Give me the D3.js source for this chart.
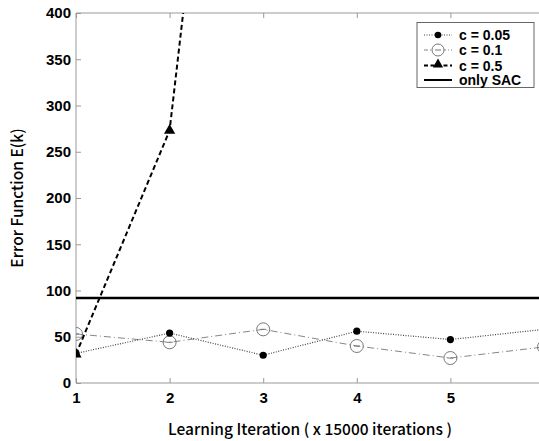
<!DOCTYPE html>
<html><head><meta charset="utf-8">
<script src="https://cdn.jsdelivr.net/npm/d3@7"></script>
<style>body{margin:0;background:#fff;overflow:hidden}</style>
</head><body>
<svg id="c" width="539" height="441"></svg>
<script>
const iterations = [1, 2, 3, 4, 5, 6];
const c005 = [32, 54, 30, 56, 47, 58];
const c01 = [53, 44, 58, 40, 27, 39];
const c05 = [31, 273, 1150];
const onlySAC = [92, 92, 92, 92, 92, 92];
const yTicks = [0, 50, 100, 150, 200, 250, 300, 350, 400];
const xTicks = [1, 2, 3, 4, 5];
const legendLabels = ["c = 0.05", "c = 0.1", "c = 0.5", "only SAC"];

const svg = d3.select("#c");
const L = 76, T = 13, B = 383, R = 544;
const x = d3.scaleLinear().domain([1, 6]).range([L, R]);
const y = d3.scaleLinear().domain([0, 400]).range([B, T]);

svg.append("defs").append("clipPath").attr("id", "clip")
  .append("rect").attr("x", L).attr("y", T).attr("width", R - L).attr("height", B - T);

const axisColor = "#999";
const tickFont = "bold 15px Arial, 'Liberation Sans', sans-serif";

// frame
svg.append("line").attr("x1", L).attr("x2", R).attr("y1", T).attr("y2", T).attr("stroke", axisColor);
svg.append("line").attr("x1", L).attr("x2", R).attr("y1", B).attr("y2", B).attr("stroke", axisColor);
svg.append("line").attr("x1", L).attr("x2", L).attr("y1", T).attr("y2", B).attr("stroke", axisColor);

// bottom axis
const gx = svg.append("g").attr("transform", `translate(0,${B})`)
  .call(d3.axisBottom(x).tickValues(xTicks).tickSize(-5).tickPadding(9).tickFormat(d3.format("d")));
gx.select(".domain").remove();
gx.selectAll("line").attr("stroke", axisColor);
gx.selectAll("text").style("font", tickFont).attr("fill", "#000");
// top ticks
const gt = svg.append("g").attr("transform", `translate(0,${T})`)
  .call(d3.axisTop(x).tickValues(xTicks).tickSize(-5).tickFormat(""));
gt.select(".domain").remove();
gt.selectAll("line").attr("stroke", axisColor);

// left axis
const gy = svg.append("g").attr("transform", `translate(${L},0)`)
  .call(d3.axisLeft(y).tickValues(yTicks).tickSize(-5).tickPadding(5));
gy.select(".domain").remove();
gy.selectAll("line").attr("stroke", axisColor);
gy.selectAll("text").style("font", tickFont).attr("fill", "#000");

const plot = svg.append("g").attr("clip-path", "url(#clip)");
const line = d3.line().x((d, i) => x(iterations[i])).y(d => y(d));

// only SAC
plot.append("path").datum(onlySAC).attr("d", line).attr("fill", "none")
  .attr("stroke", "#000").attr("stroke-width", 2.5);

// c = 0.1 dash-dot, open circles
plot.append("path").datum(c01).attr("d", line).attr("fill", "none")
  .attr("stroke", "#666").attr("stroke-width", 0.8).attr("stroke-dasharray", "7,3,1,3");
plot.selectAll(".c01").data(c01).join("circle")
  .attr("cx", (d, i) => x(iterations[i])).attr("cy", d => y(d)).attr("r", 6.5)
  .attr("fill", "none").attr("stroke", "#777").attr("stroke-width", 1);
plot.selectAll(".c01m").data(c01).join("line")
  .attr("x1", (d, i) => x(iterations[i]) - 3).attr("x2", (d, i) => x(iterations[i]) + 3)
  .attr("y1", d => y(d)).attr("y2", d => y(d)).attr("stroke", "#777");

// c = 0.05 dotted, filled dots
plot.append("path").datum(c005).attr("d", line).attr("fill", "none")
  .attr("stroke", "#444").attr("stroke-width", 1.2).attr("stroke-dasharray", "1,1.5");
plot.selectAll(".c005").data(c005).join("circle")
  .attr("cx", (d, i) => x(iterations[i])).attr("cy", d => y(d)).attr("r", 3.6)
  .attr("fill", "#000");

// c = 0.5 dashed, triangles
plot.append("path").datum(c05).attr("d", line).attr("fill", "none")
  .attr("stroke", "#000").attr("stroke-width", 2).attr("stroke-dasharray", "5,3");
const tri = d3.symbol().type(d3.symbolTriangle).size(55);
plot.selectAll(".c05").data(c05).join("path")
  .attr("d", tri).attr("transform", (d, i) => `translate(${x(iterations[i])},${y(d)})`)
  .attr("fill", "#000");

// legend
const lg = svg.append("g");
lg.append("rect").attr("x", 417).attr("y", 22.5).attr("width", 117).attr("height", 65)
  .attr("fill", "#fff").attr("stroke", "#666").attr("stroke-width", 1);
const ly = [35, 50, 65.5, 80];
const lx1 = 424, lx2 = 452, lxm = 438;
// c=0.05
lg.append("line").attr("x1", lx1).attr("x2", lx2).attr("y1", ly[0]).attr("y2", ly[0])
  .attr("stroke", "#444").attr("stroke-width", 1.2).attr("stroke-dasharray", "1,1.5");
lg.append("circle").attr("cx", lxm).attr("cy", ly[0]).attr("r", 3.3).attr("fill", "#000");
// c=0.1
lg.append("line").attr("x1", lx1).attr("x2", lx2).attr("y1", ly[1]).attr("y2", ly[1])
  .attr("stroke", "#666").attr("stroke-width", 0.8).attr("stroke-dasharray", "4,2,1,2");
lg.append("circle").attr("cx", lxm).attr("cy", ly[1]).attr("r", 6).attr("fill", "#fff").attr("stroke", "#777");
lg.append("line").attr("x1", lxm - 3).attr("x2", lxm + 3).attr("y1", ly[1]).attr("y2", ly[1]).attr("stroke", "#777");
// c=0.5
lg.append("line").attr("x1", lx1).attr("x2", lx2).attr("y1", ly[2]).attr("y2", ly[2])
  .attr("stroke", "#000").attr("stroke-width", 2).attr("stroke-dasharray", "4,2.5");
lg.append("path").attr("d", d3.symbol().type(d3.symbolTriangle).size(45))
  .attr("transform", `translate(${lxm},${ly[2] - 1})`).attr("fill", "#000");
// only SAC
lg.append("line").attr("x1", lx1).attr("x2", lx2).attr("y1", ly[3]).attr("y2", ly[3])
  .attr("stroke", "#000").attr("stroke-width", 2);
lg.selectAll("text.lab").data(legendLabels).join("text")
  .attr("x", 459).attr("y", (d, i) => ly[i] + 5)
  .style("font", "bold 14px Arial, 'Liberation Sans', sans-serif").text(d => d);

// axis titles
svg.append("text").attr("x", 310).attr("y", 435).attr("text-anchor", "middle")
  .style("font", "500 15.5px 'Noto Sans CJK JP', sans-serif").text("Learning Iteration ( x 15000 iterations )");
svg.append("text").attr("transform", "translate(23,198) rotate(-90)").attr("text-anchor", "middle")
  .style("font", "500 15.5px 'Noto Sans CJK JP', sans-serif").text("Error Function E(k)");
</script>
</body></html>
